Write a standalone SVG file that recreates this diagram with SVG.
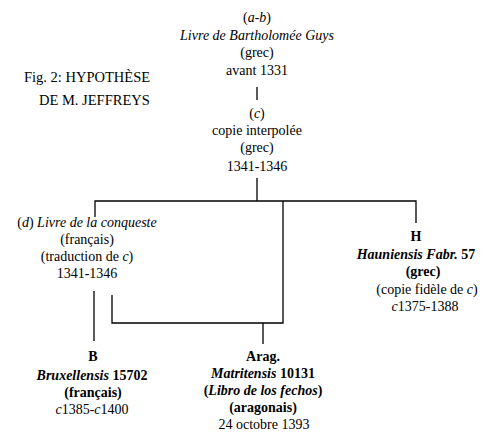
<svg xmlns="http://www.w3.org/2000/svg" width="484" height="437" viewBox="0 0 484 437">
<style>
text{font-size:14px;fill:#000;text-anchor:middle}
.t{font-size:14.5px;text-anchor:start}
.i{font-style:italic}
.b{font-weight:bold}
.ln{stroke:#000;stroke-width:1.3;fill:none}
</style>
<rect width="484" height="437" fill="#fff"/>
<g font-family="Liberation Serif, serif">
<g id="title">
<text class="t" x="24" y="82">Fig. 2: HYPOTHÈSE</text>
<text class="t" x="39" y="105">DE M. JEFFREYS</text>
</g>
<g id="node-ab">
<text x="257" y="22">(<tspan class="i">a-b</tspan>)</text>
<text x="257" y="40" class="i">Livre de Bartholomée Guys</text>
<text x="257" y="57">(grec)</text>
<text x="257" y="75">avant 1331</text>
</g>
<g id="node-c">
<text x="257" y="118">(<tspan class="i">c</tspan>)</text>
<text x="257" y="135">copie interpolée</text>
<text x="257" y="152">(grec)</text>
<text x="257" y="171">1341-1346</text>
</g>
<g id="node-d">
<text x="87" y="227">(<tspan class="i">d</tspan>) <tspan class="i">Livre de la conqueste</tspan></text>
<text x="87" y="244">(français)</text>
<text x="87" y="261">(traduction de <tspan class="i">c</tspan>)</text>
<text x="87" y="278">1341-1346</text>
</g>
<g id="node-H">
<text x="416" y="241" class="b">H</text>
<text x="416" y="259" class="b"><tspan class="i">Hauniensis Fabr.</tspan> 57</text>
<text x="423" y="276" class="b">(grec)</text>
<text x="427" y="294">(copie fidèle de <tspan class="i">c</tspan>)</text>
<text x="425" y="311"><tspan class="i">c</tspan>1375-1388</text>
</g>
<g id="node-B">
<text x="93" y="361" class="b">B</text>
<text x="92" y="380" class="b"><tspan class="i">Bruxellensis</tspan> 15702</text>
<text x="93" y="397" class="b">(français)</text>
<text x="92" y="414"><tspan class="i">c</tspan>1385-<tspan class="i">c</tspan>1400</text>
</g>
<g id="node-Arag">
<text x="263" y="361" class="b">Arag.</text>
<text x="263" y="378" class="b"><tspan class="i">Matritensis</tspan> 10131</text>
<text x="263" y="395" class="b">(<tspan class="i">Libro de los fechos</tspan>)</text>
<text x="263" y="412" class="b">(aragonais)</text>
<text x="264" y="429">24 octobre 1393</text>
</g>
</g>
<g id="connectors" class="ln">
<path d="M257 87V100"/>
<path d="M257 178V201"/>
<path d="M95 217V201H416V223"/>
<path d="M283 201V323H112V295"/>
<path d="M263 323V344"/>
<path d="M94 291V341"/>
</g>
</svg>
